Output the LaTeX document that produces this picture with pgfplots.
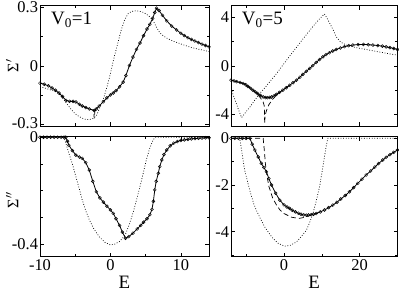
\documentclass[border=0pt]{standalone}
\usepackage{fontspec}
\setmainfont{Liberation Serif}
\newfontfamily\tf{Liberation Serif}
\usepackage{pgfplots}
\pgfplotsset{compat=1.18}
\begin{document}
\begin{tikzpicture}
\useasboundingbox (0bp,0bp) rectangle (399bp,291bp);
\pgfplotsset{
  panel/.style={scale only axis, anchor=north west,
    axis line style={line width=0.6bp},
    tick style={line width=0.5bp, black},
    major tick length=4bp, minor tick length=2.5bp,
    tick label style={font=\tf\fontsize{16.5}{16.5}\selectfont},
    xticklabel style={inner xsep=0bp, inner ysep=2.5bp},
    yticklabel style={inner xsep=1.8bp, inner ysep=0bp},
    label style={font=\tf\fontsize{19}{19}\selectfont, inner sep=0pt},
    clip=true,
  },
  lpanel/.style={panel, width=169bp, xmin=-10, xmax=14,
    xtick={-10,0,10}, minor xtick={-5,5}, xticklabels={-10,0,10}},
  rpanel/.style={panel, width=166.5bp, xmin=-14, xmax=30,
    xtick={0,20}, minor xtick={-10,10}, xticklabels={0,20}},
  toppanel/.style={height=120.3bp, xticklabels={}},
  botpanel/.style={height=120bp, xlabel={E},
    xlabel style={at={(axis description cs:0.5,-0.262)}, anchor=base}},
  ylab/.style={ylabel style={font=\tf\fontsize{16}{16}\selectfont, inner sep=0pt, at={(axis description cs:-0.165,#1)}, anchor=center}},
  solidc/.style={black, solid, line width=0.8bp, mark=o, mark size=1.5bp, mark options={solid, line width=0.45bp}},
  dashc/.style={black, line width=0.7bp, dash pattern=on 5bp off 3bp},
  dotc/.style={black, line width=0.7bp, dash pattern=on 0.8bp off 1.8bp},
}
% ---------------- top-left -----------------
\begin{axis}[lpanel, toppanel, at={(40bp,285.3bp)},
  ymin=-0.31, ymax=0.31, ytick={-0.3,0,0.3}, yticklabels={{\raisebox{1.5bp}{-0.3}},0,0.3}, minor ytick={-0.15,0.15},
  ylabel={Σ$'$}, ylab=0.5]
\addplot[dotc] coordinates {(-10,-0.107) (-9,-0.118) (-8,-0.130) (-7.5,-0.140) (-7,-0.155) (-6.5,-0.180) (-6,-0.205) (-5.5,-0.228) (-5,-0.247) (-4.5,-0.260) (-4,-0.270) (-3.5,-0.276) (-3,-0.277) (-2.5,-0.272) (-2,-0.258) (-1.5,-0.215) (-1,-0.170) (-0.5,-0.110) (0,-0.040) (0.5,0.040) (1,0.110) (1.5,0.180) (2,0.235) (2.5,0.268) (3,0.281) (3.7,0.284) (4.5,0.278) (5.1,0.267) (5.6,0.252) (6.1,0.230) (6.6,0.195) (7.0,0.171) (7.5,0.155) (8,0.143) (9,0.126) (10,0.113) (11,0.100) (12,0.090) (13,0.082) (14,0.074)};
\addplot[dashc] coordinates {(-4,-0.207) (-3,-0.222) (-2.4,-0.229) (-2.3,-0.27) (-2.2,-0.231) (-1.6,-0.207)};
\addplot[solidc] coordinates {(-10,-0.089) (-9.4,-0.095) (-8.8,-0.103) (-8.3,-0.114) (-7.8,-0.126) (-7.3,-0.140) (-6.8,-0.158) (-6.3,-0.178) (-5.8,-0.183) (-5.3,-0.183) (-4.9,-0.186) (-4.4,-0.198) (-4.0,-0.207) (-3.5,-0.215) (-3.0,-0.222) (-2.3,-0.230) (-2.0,-0.222) (-1.6,-0.207) (-1.0,-0.185) (-0.5,-0.165) (0,-0.150) (0.4,-0.140) (0.8,-0.128) (1.3,-0.108) (1.8,-0.084) (2.2,-0.050) (2.7,0.002) (3.2,0.045) (3.7,0.085) (4.2,0.118) (4.7,0.155) (5.2,0.190) (5.6,0.214) (6.0,0.245) (6.3,0.275) (6.55,0.297) (6.9,0.285) (7.4,0.260) (8.0,0.232) (8.7,0.205) (9.4,0.185) (10,0.168) (10.5,0.156) (11,0.145) (11.5,0.136) (12,0.128) (12.5,0.120) (13,0.112) (13.5,0.105) (14,0.098)};
\node[anchor=north west, inner sep=0pt, font=\tf\fontsize{19}{19}\selectfont] at (axis description cs:0.065,0.95) {V\textsubscript{0}=1};
\end{axis}
% ---------------- top-right -----------------
\begin{axis}[rpanel, toppanel, at={(231bp,285.3bp)},
  ymin=-4.95, ymax=4.95, ytick={-4,0,4}, yticklabels={-4,0,4}, minor ytick={-2,2}]
\addplot[dotc] coordinates {(-14,-1.87) (-13.3,-2.5) (-12.6,-3.1) (-11.9,-3.7) (-11.2,-4.26) (-10.2,-3.85) (-9,-3.39) (-7.7,-2.82) (-6.4,-2.28) (-5,-1.78) (-3.8,-1.32) (-2,-0.65) (-0.3,0.06) (2,1.0) (4.1,1.85) (6,2.6) (7.6,3.22) (9.2,3.8) (10.7,4.27) (11.4,3.9) (12.1,3.5) (13,2.95) (13.8,2.4) (15,1.95) (16.5,1.71) (19,1.5) (21.7,1.35) (25,1.15) (28,0.98) (30,0.88)};
\addplot[dashc] coordinates {(-14,-1.18) (-10.8,-1.45) (-9,-1.78) (-7.5,-2.2) (-6.3,-2.6) (-5.5,-2.98) (-5.2,-3.3) (-5.1,-4.76) (-5.0,-4.1) (-4.6,-3.66) (-4,-3.2) (-3,-2.75) (-2,-2.42) (-1.1,-2.15) (0,-1.93) (1.5,-1.6)};
\addplot[solidc] coordinates {(-14,-1.18) (-13.2,-1.24) (-12.5,-1.30) (-11.6,-1.37) (-10.8,-1.45) (-10.1,-1.56) (-9.5,-1.70) (-8.8,-1.85) (-8.2,-2.00) (-7.6,-2.14) (-7,-2.28) (-6.2,-2.44) (-5.5,-2.56) (-4.9,-2.61) (-4.4,-2.62) (-3.8,-2.60) (-3.3,-2.56) (-2.6,-2.46) (-2,-2.35) (-1.2,-2.18) (-0.3,-2.00) (0.6,-1.80) (1.5,-1.60) (2.4,-1.39) (3.3,-1.18) (4.2,-0.94) (5,-0.70) (5.9,-0.45) (6.8,-0.21) (7.6,0.02) (8.5,0.28) (9.4,0.52) (10.3,0.74) (11.1,0.92) (12,1.08) (12.9,1.22) (13.8,1.35) (14.9,1.47) (16,1.58) (17.1,1.66) (18.2,1.71) (19.6,1.75) (21,1.76) (22.3,1.74) (23.5,1.71) (24.8,1.67) (26,1.62) (27,1.56) (28,1.50) (29,1.43) (30,1.35)};
\node[anchor=north west, inner sep=0pt, font=\tf\fontsize{19}{19}\selectfont] at (axis description cs:0.064,0.95) {V\textsubscript{0}=5};
\end{axis}
% ---------------- bottom-left -----------------
\begin{axis}[lpanel, botpanel, at={(40bp,154.3bp)},
  ymin=-0.447, ymax=0.002, ytick={-0.4,0}, yticklabels={-0.4,{\raisebox{-4bp}{0}}}, minor ytick={-0.3,-0.2,-0.1},
  ylabel={Σ$''$}, ylab=0.47]
\addplot[dotc] coordinates {(-10,0) (-6.6,0) (-6.3,-0.025) (-5.9,-0.060) (-5.4,-0.100) (-4.9,-0.148) (-4.4,-0.195) (-4.0,-0.235) (-3.5,-0.275) (-3.0,-0.309) (-2.3,-0.345) (-1.6,-0.372) (-0.8,-0.393) (0,-0.403) (0.6,-0.400) (1.3,-0.390) (1.8,-0.375) (2.2,-0.359) (2.7,-0.325) (3.2,-0.284) (3.7,-0.235) (4.2,-0.185) (4.7,-0.130) (5.1,-0.085) (5.6,-0.040) (6.06,-0.010) (6.4,0) (14,0)};
\addplot[solidc] coordinates {(-10,0) (-9.5,0) (-9,0) (-8.5,0) (-8,0) (-7.5,0) (-7,0) (-6.6,0) (-6.35,0) (-6.1,-0.015) (-5.9,-0.03) (-5.4,-0.05) (-4.9,-0.067) (-4.4,-0.074) (-4.0,-0.079) (-3.5,-0.095) (-3.0,-0.123) (-2.5,-0.165) (-2.0,-0.204) (-1.5,-0.227) (-1.0,-0.243) (-0.5,-0.258) (0,-0.272) (0.4,-0.285) (0.8,-0.305) (1.3,-0.330) (1.7,-0.355) (2.15,-0.378) (2.6,-0.372) (3.2,-0.359) (3.8,-0.343) (4.3,-0.330) (4.7,-0.318) (5.2,-0.305) (5.6,-0.290) (5.9,-0.270) (6.1,-0.240) (6.3,-0.197) (6.5,-0.165) (6.8,-0.135) (7.0,-0.110) (7.3,-0.085) (7.6,-0.065) (8.0,-0.048) (8.5,-0.032) (9.0,-0.022) (9.5,-0.016) (10,-0.012) (10.5,-0.010) (11,-0.008) (11.5,-0.006) (12,-0.005) (12.5,-0.004) (13,-0.003) (13.5,-0.002) (14,-0.002)};
\end{axis}
% ---------------- bottom-right -----------------
\begin{axis}[rpanel, botpanel, at={(231bp,154.3bp)},
  ymin=-5.07, ymax=0.07, ytick={-4,-2,0}, yticklabels={-4,-2,0}, minor ytick={-5,-3,-1}]
\addplot[dotc] coordinates {(-14,0) (-11.7,0) (-11.2,-0.5) (-10.4,-1.36) (-9.05,-2.22) (-8,-2.8) (-7.3,-3.08) (-6.2,-3.45) (-5.1,-3.79) (-4,-4.05) (-2.9,-4.29) (-1.5,-4.5) (0.2,-4.62) (1.7,-4.58) (3.27,-4.44) (4.6,-4.2) (5.9,-3.94) (6.8,-3.6) (7.65,-3.22) (8.5,-2.7) (9.4,-2.08) (10.1,-1.4) (10.7,-0.79) (11.2,-0.3) (11.6,0) (30,0)};
\addplot[dashc] coordinates {(-14,0) (-5.5,0) (-5.2,-0.5) (-4.9,-1.1) (-4.5,-1.6) (-4.0,-2.05) (-3,-2.55) (-2,-2.85) (-1,-3.08) (0,-3.22) (2,-3.38) (4,-3.43) (5.5,-3.38) (7,-3.3) (8.5,-3.22) (10,-3.12)};
\addplot[solidc] coordinates {(-14,0) (-13,0) (-12,0) (-11,0) (-10,0) (-9,0) (-8.4,-0.25) (-7.7,-0.5) (-6.8,-0.8) (-6.0,-1.07) (-5.3,-1.25) (-4.65,-1.43) (-4.0,-1.72) (-3.3,-2.0) (-2.2,-2.35) (-1.1,-2.65) (0,-2.85) (0.8,-2.94) (1.5,-3.0) (2.2,-3.08) (3,-3.15) (3.8,-3.21) (4.5,-3.25) (5.2,-3.28) (5.9,-3.29) (6.5,-3.28) (7.2,-3.27) (7.8,-3.25) (8.5,-3.22) (9.6,-3.15) (10.7,-3.07) (11.8,-2.97) (12.9,-2.86) (14,-2.74) (15,-2.6) (16.2,-2.45) (17.3,-2.29) (18.4,-2.11) (19.5,-1.93) (20.6,-1.75) (21.7,-1.57) (22.9,-1.40) (24,-1.23) (25,-1.08) (26.1,-0.93) (27,-0.81) (28,-0.70) (29,-0.60) (30,-0.50)};
\end{axis}
\end{tikzpicture}
\end{document}
